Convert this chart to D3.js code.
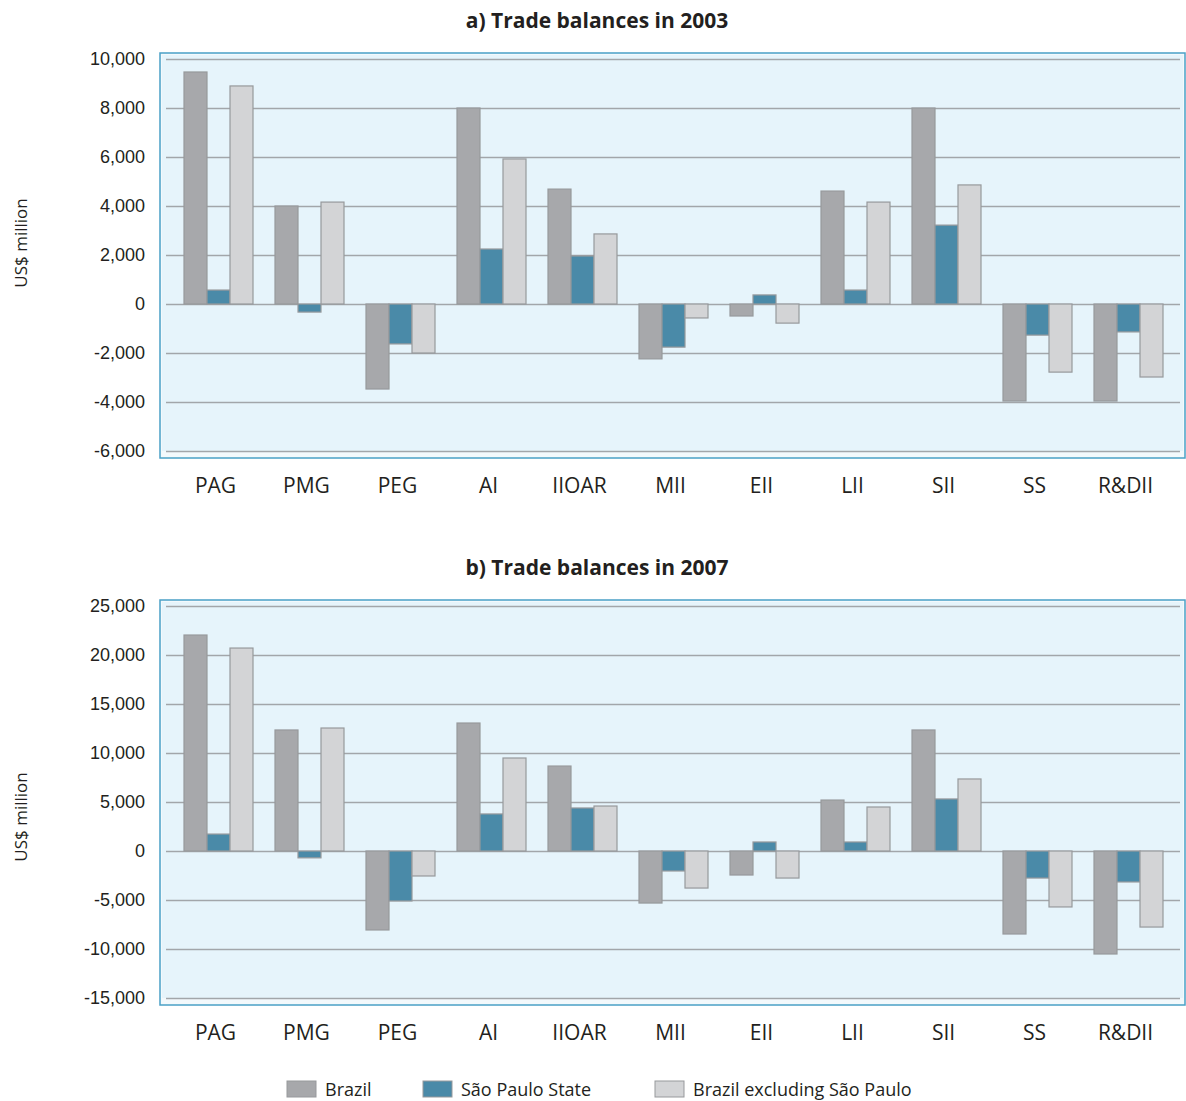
<!DOCTYPE html>
<html>
<head>
<meta charset="utf-8">
<script src="https://cdn.jsdelivr.net/npm/d3@7"></script>
<style>
  body { margin: 0; background: #fff; }
  svg { display: block; font-family: "Open Sans", "Noto Sans", sans-serif; }
</style>
</head>
<body>
<svg id="chart" width="1186" height="1101"></svg>
<script>
// data (US$ million)
const categories = ["PAG", "PMG", "PEG", "AI", "IIOAR", "MII", "EII", "LII", "SII", "SS", "R&DII"];
const seriesNames = ["Brazil", "São Paulo State", "Brazil excluding São Paulo"];
const seriesColours = ["#a7a8ab", "#4a8aa8", "#d3d4d6"];

const brazil2003 = [9470, 4000, -3470, 8000, 4690, -2240, -490, 4610, 8000, -3960, -3960];
const saoPaulo2003 = [570, -330, -1630, 2245, 1960, -1760, 370, 570, 3220, -1270, -1140];
const brazilExSP2003 = [8900, 4160, -2000, 5920, 2860, -570, -780, 4160, 4860, -2780, -2980];

const brazil2007 = [22040, 12350, -8060, 13060, 8670, -5310, -2450, 5200, 12350, -8470, -10510];
const saoPaulo2007 = [1730, -700, -5100, 3780, 4390, -2040, 920, 920, 5310, -2760, -3160];
const brazilExSP2007 = [20710, 12550, -2550, 9490, 4590, -3780, -2760, 4490, 7350, -5710, -7760];

const ticks2003 = [-6000, -4000, -2000, 0, 2000, 4000, 6000, 8000, 10000];
const ticks2007 = [-15000, -10000, -5000, 0, 5000, 10000, 15000, 20000, 25000];

const svg = d3.select("#chart");
const fmt = function(d) { return d3.format(",")(d).replace("\u2212", "-"); };

function drawPanel(title, top, seriesData, ticks, labelY) {
  const g = svg.append("g").attr("transform", "translate(0," + top + ")");
  const plotTop = 6, plotBottom = 398; // grid from max tick to min tick
  const left = 166, right = 1180;

  // title
  g.append("text")
      .attr("x", 597)
      .attr("y", -25)
      .attr("text-anchor", "middle")
      .style("font-size", "21px")
      .style("font-weight", "bold")
      .attr("fill", "#231f20")
      .text(title);

  // frame + background
  g.append("rect")
      .attr("x", 160).attr("y", 0)
      .attr("width", 1025).attr("height", 405)
      .attr("fill", "#f3f9fc")
      .attr("stroke", "#4aa0c6")
      .attr("stroke-width", 1.5);
  g.append("rect")
      .attr("x", 162).attr("y", 2)
      .attr("width", 1021).attr("height", plotBottom - 2)
      .attr("fill", "#e6f4fb");

  const y = d3.scaleLinear()
      .domain([ticks[0], ticks[ticks.length - 1]])
      .range([plotBottom, plotTop]);

  // y axis with gridlines
  const yAxis = g.append("g")
      .attr("transform", "translate(" + left + ",0)")
      .call(d3.axisLeft(y).tickValues(ticks).tickFormat(fmt).tickSize(-(right - left)).tickPadding(21));
  yAxis.select(".domain").remove();
  yAxis.selectAll(".tick line").attr("stroke", "#a2a6aa").attr("stroke-width", 1.3);
  yAxis.selectAll(".tick text")
      .attr("fill", "#231f20")
      .style("font-size", "18px");

  // y label
  g.append("text")
      .attr("transform", "translate(27," + labelY + ") rotate(-90)")
      .attr("text-anchor", "middle")
      .style("font-size", "17px")
      .attr("fill", "#231f20")
      .text("US$ million");

  // bars
  const x0 = d3.scaleBand().domain(categories).range([173, 1174]);
  const groupW = 69;
  const x1 = d3.scaleBand().domain(d3.range(3))
      .range([(x0.step() - groupW) / 2, (x0.step() + groupW) / 2]);

  const groups = g.selectAll("g.cat")
      .data(categories)
      .enter()
      .append("g")
      .attr("class", "cat")
      .attr("transform", function(d) { return "translate(" + x0(d) + ",0)"; });

  groups.selectAll("rect")
      .data(function(d, i) {
        return seriesData.map(function(s, j) { return {s: j, v: s[i]}; });
      })
      .enter()
      .append("rect")
      .attr("x", function(d) { return x1(d.s); })
      .attr("width", x1.bandwidth())
      .attr("y", function(d) { return y(Math.max(0, d.v)); })
      .attr("height", function(d) { return Math.abs(y(d.v) - y(0)); })
      .attr("fill", function(d) { return seriesColours[d.s]; })
      .attr("stroke", "#97999c")
      .attr("stroke-width", 1.2);

  // category labels
  g.selectAll("text.cat")
      .data(categories)
      .enter()
      .append("text")
      .attr("class", "cat")
      .attr("x", function(d) { return x0(d) + x0.step() / 2 - 3; })
      .attr("y", 440)
      .attr("text-anchor", "middle")
      .style("font-size", "21px")
      .attr("fill", "#231f20")
      .text(function(d) { return d; });
}

drawPanel("a) Trade balances in 2003", 53, [brazil2003, saoPaulo2003, brazilExSP2003], ticks2003, 190);
drawPanel("b) Trade balances in 2007", 600, [brazil2007, saoPaulo2007, brazilExSP2007], ticks2007, 217);

// legend
const legendX = [287, 423, 655];
const legend = svg.selectAll("g.legend")
    .data(seriesNames)
    .enter()
    .append("g")
    .attr("class", "legend")
    .attr("transform", function(d, i) { return "translate(" + legendX[i] + ",1081)"; });
legend.append("rect")
    .attr("width", 29).attr("height", 16)
    .attr("fill", function(d, i) { return seriesColours[i]; })
    .attr("stroke", "#97999c")
    .attr("stroke-width", 1);
legend.append("text")
    .attr("x", 38).attr("y", 15)
    .style("font-size", "18px")
    .attr("fill", "#231f20")
    .text(function(d) { return d; });
</script>
</body>
</html>
